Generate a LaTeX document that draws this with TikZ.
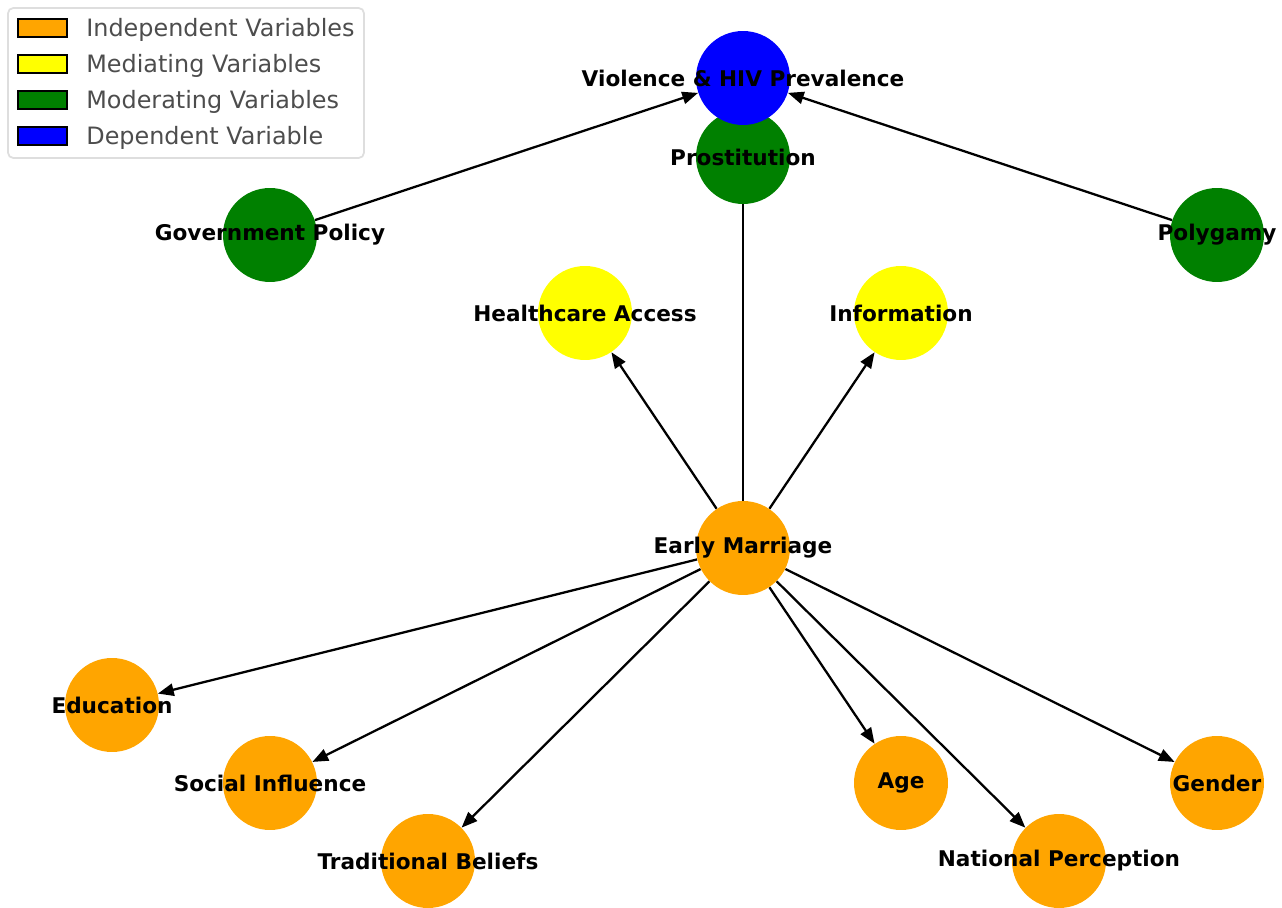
\documentclass[tikz,border=0pt]{standalone}
\usepackage{fontspec}
\setmainfont{DejaVu Sans}
\usetikzlibrary{arrows.meta,backgrounds}

\definecolor{duli}{HTML}{FFA500}
\definecolor{zhongjie}{HTML}{FFFF00}
\definecolor{tiaojie}{HTML}{008000}
\definecolor{yilai}{HTML}{0000FF}
\definecolor{tuli}{HTML}{4D4D4D}

\begin{document}
\begin{tikzpicture}[x=0.02cm,y=-0.02cm,
  % 圆形节点的style
  bianliang/.style={circle,minimum size=1.88cm,inner sep=0pt},
  % 节点文字的style
  wenzi/.style={font=\bfseries\fontsize{12.3}{14}\selectfont,inner sep=0pt},
  % 箭头的style
  jiantou/.style={line width=1.3pt,-{Triangle[length=9pt,width=7pt]}},
  % 图例
  tuli kuai/.style={draw=black,line width=1pt,minimum width=0.98cm,minimum height=0.36cm,inner sep=0pt},
  tuli zi/.style={anchor=west,text=tuli,font=\fontsize{13.6}{16}\selectfont,inner sep=0pt}]

  \useasboundingbox (0,0) rectangle (1282,908);

  % 画圆
  \node[bianliang,fill=tiaojie] (pro) at (743,157) {};
  \node[bianliang,fill=yilai] (vio) at (743,78) {};
  \node[bianliang,fill=tiaojie] (gov) at (270,235) {};
  \node[bianliang,fill=tiaojie] (pol) at (1217,235) {};
  \node[bianliang,fill=zhongjie] (hea) at (585,313) {};
  \node[bianliang,fill=zhongjie] (inf) at (901,313) {};
  \node[bianliang,fill=duli] (em) at (743,548) {};
  \node[bianliang,fill=duli] (edu) at (112,705) {};
  \node[bianliang,fill=duli] (soc) at (270,783) {};
  \node[bianliang,fill=duli] (tra) at (428,861) {};
  \node[bianliang,fill=duli] (age) at (901,783) {};
  \node[bianliang,fill=duli] (nat) at (1059,861) {};
  \node[bianliang,fill=duli] (gen) at (1217,783) {};

  % 画箭头
  \begin{scope}[on background layer]
    \draw[jiantou] (em) -- (vio);
    \draw[jiantou] (pro) -- (vio);
    \draw[jiantou] (gov) -- (vio);
    \draw[jiantou] (pol) -- (vio);
    \draw[jiantou] (em) -- (hea);
    \draw[jiantou] (em) -- (inf);
    \draw[jiantou] (em) -- (edu);
    \draw[jiantou] (em) -- (soc);
    \draw[jiantou] (em) -- (tra);
    \draw[jiantou] (em) -- (age);
    \draw[jiantou] (em) -- (nat);
    \draw[jiantou] (em) -- (gen);
  \end{scope}

  % 文字
  \node[wenzi] (pro-t) at (pro) {Prostitution};
  \node[wenzi] (vio-t) at (vio) {Violence \& HIV Prevalence};
  \node[wenzi] (gov-t) at (gov) {Government Policy};
  \node[wenzi] (pol-t) at (pol) {Polygamy};
  \node[wenzi] (hea-t) at (hea) {Healthcare Access};
  \node[wenzi] (inf-t) at (inf) {Information};
  \node[wenzi] (em-t) at (em) {Early Marriage};
  \node[wenzi] (edu-t) at (edu) {Education};
  \node[wenzi] (soc-t) at (soc) {Social Influence};
  \node[wenzi] (tra-t) at (tra) {Traditional Beliefs};
  \node[wenzi] (age-t) at (age) {Age};
  \node[wenzi] (nat-t) at (nat) {National Perception};
  \node[wenzi] (gen-t) at (gen) {Gender};

  % 图例
  \draw[draw=black!13,line width=1pt,fill=white,rounded corners=3pt] (8,8) rectangle (364,158);
  \node[tuli kuai,fill=duli] (k1) at (42.5,28) {};
  \node[tuli kuai,fill=zhongjie] (k2) at (42.5,64) {};
  \node[tuli kuai,fill=tiaojie] (k3) at (42.5,100) {};
  \node[tuli kuai,fill=yilai] (k4) at (42.5,136) {};
  \node[tuli zi] (z1) at (86,30) {Independent Variables};
  \node[tuli zi] (z2) at (86,66) {Mediating Variables};
  \node[tuli zi] (z3) at (86,102) {Moderating Variables};
  \node[tuli zi] (z4) at (86,138) {Dependent Variable};

\end{tikzpicture}
\end{document}
